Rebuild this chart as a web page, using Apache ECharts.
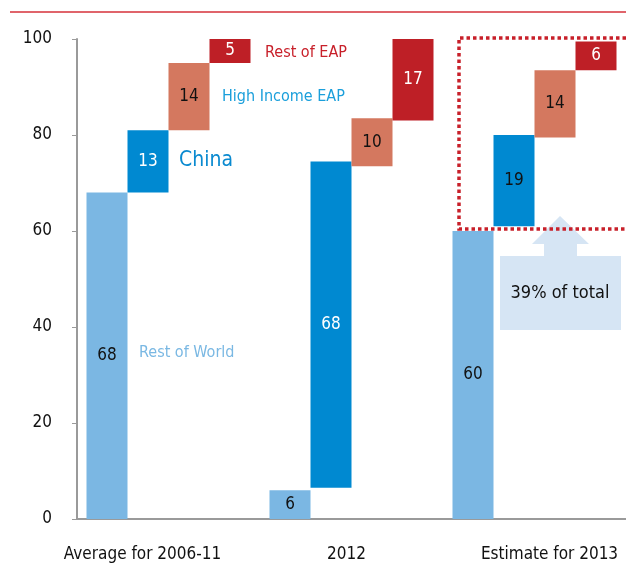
<!DOCTYPE html>
<html lang="en">
<head>
    <meta charset="UTF-8">
    <title>EAP contribution</title>
    <style>
        *{
            margin: 0;
        }

        body{
            background: #fff;
        }

        #main {
            width: 626px;
            height: 568px;
        }
    </style>
    <script src="https://cdn.jsdelivr.net/npm/echarts@6/dist/echarts.min.js"></script>
</head>
<body>
<div id="main"></div>
<script>
    var myChart = echarts.init(document.getElementById('main'));

    var categories = ['Average for 2006-11', '2012', 'Estimate for 2013'];
    var yTicks = [0, 20, 40, 60, 80, 100];

    // shares (bar labels) and where each floating bar starts
    var restOfWorld = [68, 6, 60];
    var china = [13, 68, 19];
    var highIncomeEAP = [14, 10, 14];
    var restOfEAP = [5, 17, 6];

    var rowStart = [0, 0, 0];
    var chinaStart = [68, 6.5, 61];
    var hiStart = [81, 73.5, 79.5];
    var restStart = [95, 83, 93.5];

    var font = "'Liberation Sans Narrow', 'DejaVu Sans Condensed', sans-serif";

    function pair(name, starts, values, color, labelColors) {
        return [
            { // invisible base
                type: 'bar',
                stack: name,
                barWidth: 41,
                barGap: 0,
                itemStyle: {color: 'transparent'},
                data: starts,
                silent: true
            },
            {
                name: name,
                type: 'bar',
                stack: name,
                barWidth: 41,
                barGap: 0,
                itemStyle: {color: color},
                label: {
                    show: true,
                    position: 'inside',
                    fontFamily: font,
                    fontSize: 17,
                    formatter: '{c}'
                },
                data: values.map(function (v, i) {
                    return {value: v, label: {color: labelColors[i]}};
                })
            }
        ];
    }

    var series = [].concat(
        pair('row', rowStart, restOfWorld, '#7bb7e3', ['#111', '#111', '#111']),
        pair('china', chinaStart, china, '#0089d1', ['#fff', '#fff', '#111']),
        pair('hi', hiStart, highIncomeEAP, '#d4785f', ['#111', '#111', '#111']),
        pair('rest', restStart, restOfEAP, '#be1f26', ['#fff', '#fff', '#fff'])
    );

    var option = {
        animation: false,
        grid: {
            left: 77,
            right: 0,
            top: 39,
            bottom: 49,
            containLabel: false,
            outerBoundsMode: 'none'
        },
        xAxis: {
            type: 'category',
            data: categories,
            axisLine: {lineStyle: {color: '#9a9a9a', width: 2}},
            axisTick: {show: false},
            axisLabel: {
                interval: 0,
                hideOverlap: false,
                margin: 27,
                color: '#111',
                fontFamily: font,
                fontSize: 17,
                formatter: function (v, i) {
                    return ['{l|' + v + '}', '{m|' + v + '}', '{r|' + v + '}'][i];
                },
                rich: {
                    l: {fontFamily: font, fontSize: 17, color: '#111', padding: [0, 52, 0, 0]},
                    m: {fontFamily: font, fontSize: 17, color: '#111', padding: [0, 10, 0, 0]},
                    r: {fontFamily: font, fontSize: 17, color: '#111', padding: [0, 0, 0, 30]}
                }
            }
        },
        yAxis: {
            type: 'value',
            min: yTicks[0],
            max: yTicks[yTicks.length - 1],
            interval: 20,
            splitLine: {show: false},
            axisLine: {show: true, lineStyle: {color: '#9a9a9a', width: 2}},
            axisTick: {show: true, length: 5, lineStyle: {color: '#9a9a9a'}},
            axisLabel: {
                margin: 25,
                color: '#111',
                fontFamily: font,
                fontSize: 17
            }
        },
        graphic: [
            { // top rule
                type: 'line',
                shape: {x1: 10, y1: 12, x2: 626, y2: 12},
                style: {stroke: '#d6313a', lineWidth: 1.5}
            },
            {
                type: 'text', x: 265, y: 53,
                style: {text: 'Rest of EAP', fill: '#c8202a', font: '16px ' + font, verticalAlign: 'middle'}
            },
            {
                type: 'text', x: 222, y: 97,
                style: {text: 'High Income EAP', fill: '#1a9fdb', font: '16px ' + font, verticalAlign: 'middle'}
            },
            {
                type: 'text', x: 179, y: 161,
                style: {text: 'China', fill: '#0a8ad0', font: '21px ' + font, verticalAlign: 'middle'}
            },
            {
                type: 'text', x: 139, y: 353,
                style: {text: 'Rest of World', fill: '#7ab8e3', font: '16px ' + font, verticalAlign: 'middle'}
            },
            { // arrow callout
                type: 'polygon',
                z: 5,
                shape: {
                    points: [[560, 216], [589, 244], [577, 244], [577, 256], [621, 256], [621, 330],
                        [500, 330], [500, 256], [544, 256], [544, 244], [532, 244]]
                },
                style: {fill: '#d6e5f4'}
            },
            {
                type: 'text', x: 560, y: 293, z: 6,
                style: {text: '39% of total', fill: '#111', font: '18px ' + font, align: 'center', verticalAlign: 'middle'}
            },
            { // dotted box
                type: 'polyline',
                z: 10,
                shape: {points: [[626, 38], [459, 38], [459, 229], [626, 229]]},
                style: {stroke: '#c8202a', lineWidth: 3.5, lineDash: [3.5, 3], fill: null}
            }
        ],
        series: series
    };
    myChart.setOption(option);
</script>
</body>
</html>
